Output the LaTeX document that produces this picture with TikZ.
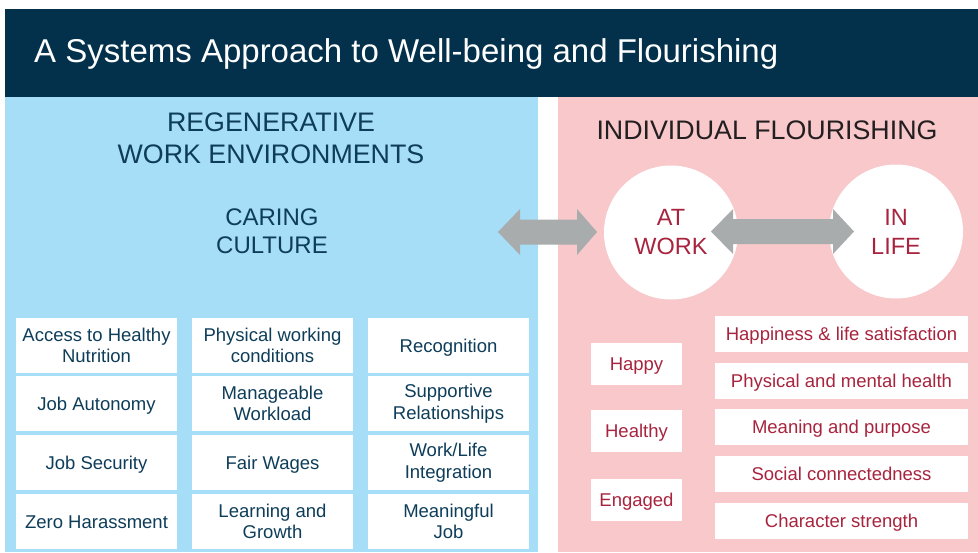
\documentclass[tikz,border=0pt]{standalone}
\usepackage{fontspec}
\setmainfont{Liberation Sans}
\definecolor{navy}{HTML}{03314B}
\definecolor{skyb}{HTML}{A7DEF7}
\definecolor{pinkb}{HTML}{F8C8CA}
\definecolor{navytxt}{HTML}{0E3D59}
\definecolor{redtxt}{HTML}{A8243E}
\definecolor{darktxt}{HTML}{231F20}
\definecolor{arrowgray}{HTML}{A8ACAD}
\begin{document}
\begin{tikzpicture}[x=1pt,y=-1pt,
  bluebox/.style={fill=white, inner sep=0pt, minimum width=161pt, minimum height=55pt,
    align=center, text=navytxt, font=\fontsize{18.5}{21.5}\selectfont},
  oneline/.style={text height=17pt, text depth=3.8pt},
  smallbox/.style={fill=white, inner sep=0pt, minimum width=91pt, minimum height=42pt,
    text=redtxt, font=\fontsize{18.5}{21.5}\selectfont, oneline},
  widebox/.style={fill=white, inner sep=0pt, minimum width=253pt, minimum height=36pt,
    text=redtxt, font=\fontsize{18.5}{21.5}\selectfont, oneline},
  bigcircle/.style={circle, fill=white, inner sep=0pt, minimum size=134pt,
    align=center, text=redtxt, font=\fontsize{23.5}{29}\selectfont},
  dblarrow/.style={fill=arrowgray}]
\useasboundingbox (0,0) rectangle (978,552);
\fill[white] (0,0) rectangle (978,552);
\fill[navy] (5,9) rectangle (978,97);
\fill[skyb] (5,97) rectangle (538,552);
\fill[pinkb] (558,97) rectangle (978,552);

\node[anchor=base west, text=white, inner sep=0pt, font=\fontsize{33}{40}\selectfont] (title) at (34,62)
  {A Systems Approach to Well-being and Flourishing};

\node[align=center, text=navytxt, font=\fontsize{26.8}{32}\selectfont] (regen) at (271,138)
  {REGENERATIVE\\WORK ENVIRONMENTS};
\node[align=center, text=navytxt, font=\fontsize{24}{28}\selectfont] (caring) at (272,231.5)
  {CARING\\CULTURE};
\node[text=darktxt, font=\fontsize{26.8}{32}\selectfont] (indiv) at (767,130.5)
  {INDIVIDUAL FLOURISHING};

% circles
\node[bigcircle] (atwork) at (671,232.5) {AT\\WORK};
\node[bigcircle] (inlife) at (896,231.5) {IN\\LIFE};

% double arrows
\fill[dblarrow] (498,232) -- (520,209) -- (520,219.5) -- (577,219.5) -- (577,209) -- (597,232)
  -- (577,255) -- (577,244.5) -- (520,244.5) -- (520,255) -- cycle;
\fill[dblarrow] (711,231.5) -- (733,209) -- (733,219) -- (833,219) -- (833,209) -- (854,231.5)
  -- (833,254) -- (833,244) -- (733,244) -- (733,254) -- cycle;

% blue grid
\node[bluebox] (b11) at (96.5,345.5) {Access to Healthy\\Nutrition};
\node[bluebox] (b12) at (272.5,345.5) {Physical working\\conditions};
\node[bluebox, oneline] (b13) at (448.5,345.5) {Recognition};
\node[bluebox, oneline] (b21) at (96.5,403.5) {Job Autonomy};
\node[bluebox] (b22) at (272.5,403.5) {Manageable\\Workload};
\node[bluebox] (b23) at (448.5,403.5) {Supportive\\Relationships};
\node[bluebox, oneline] (b31) at (96.5,462.5) {Job Security};
\node[bluebox, oneline] (b32) at (272.5,462.5) {Fair Wages};
\node[bluebox] (b33) at (448.5,462.5) {Work/Life\\Integration};
\node[bluebox, oneline] (b41) at (96.5,521.5) {Zero Harassment};
\node[bluebox] (b42) at (272.5,521.5) {Learning and\\Growth};
\node[bluebox] (b43) at (448.5,521.5) {Meaningful\\Job};

% pink small boxes
\node[smallbox] (happy) at (636.5,364) {Happy};
\node[smallbox] (healthy) at (636.5,431) {Healthy};
\node[smallbox] (engaged) at (636.5,500) {Engaged};

% pink wide boxes
\node[widebox] (w1) at (841.5,334) {Happiness \& life satisfaction};
\node[widebox] (w2) at (841.5,381) {Physical and mental health};
\node[widebox] (w3) at (841.5,427) {Meaning and purpose};
\node[widebox] (w4) at (841.5,474) {Social connectedness};
\node[widebox] (w5) at (841.5,521) {Character strength};
\end{tikzpicture}
\end{document}
